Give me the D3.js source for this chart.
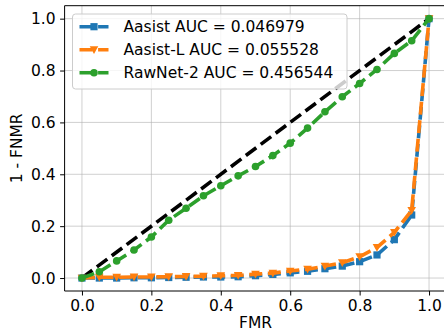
<!DOCTYPE html>
<html>
<head>
<meta charset="utf-8">
<script src="https://cdn.jsdelivr.net/npm/d3@7"></script>
<style>
  body { margin: 0; background: #fff; }
  svg { display: block; font-family: "DejaVu Sans", sans-serif; }
</style>
</head>
<body>
<svg id="chart" width="444" height="335"></svg>
<script>
// ROC-style curves: FMR vs 1 - FNMR for three models

const fmr = [0, 0.05, 0.1, 0.15, 0.2, 0.25, 0.3, 0.35, 0.4, 0.45, 0.5,
             0.55, 0.6, 0.65, 0.7, 0.75, 0.8, 0.85, 0.9, 0.95, 1.0];

const aasist = [0, 0.0, 0.0, 0.001, 0.001, 0.002, 0.003, 0.004, 0.004, 0.005, 0.009,
                0.014, 0.02, 0.026, 0.036, 0.046, 0.063, 0.089, 0.148, 0.243, 1.0];

const aasistL = [0, 0.003, 0.003, 0.004, 0.004, 0.005, 0.006, 0.007, 0.009, 0.01, 0.015,
                 0.019, 0.027, 0.034, 0.046, 0.059, 0.082, 0.118, 0.176, 0.261, 1.0];

const rawnet = [0, 0.024, 0.066, 0.108, 0.158, 0.223, 0.269, 0.317, 0.356, 0.394, 0.43,
                0.472, 0.52, 0.578, 0.641, 0.699, 0.75, 0.804, 0.866, 0.915, 1.0];

const ticks = [0, 0.2, 0.4, 0.6, 0.8, 1.0];

const series = [
  { name: 'Aasist AUC = 0.046979', values: aasist, color: '#1f77b4', marker: 'square' },
  { name: 'Aasist-L AUC = 0.055528', values: aasistL, color: '#ff7f0e', marker: 'tri' },
  { name: 'RawNet-2 AUC = 0.456544', values: rawnet, color: '#2ca02c', marker: 'circle' }
];

const svg = d3.select('#chart');
const fs = 15.5;

const x = d3.scaleLinear().domain([-0.05, 1.05]).range([64.6, 446.4]);
const y = d3.scaleLinear().domain([-0.05, 1.05]).range([291, 5.7]);

// grid
const grid = svg.append('g');
grid.selectAll('.gx').data(ticks).enter().append('line')
  .attr('x1', d => x(d)).attr('x2', d => x(d))
  .attr('y1', y(-0.05)).attr('y2', y(1.05))
  .attr('stroke', '#b0b0b0').attr('stroke-opacity', 0.6).attr('stroke-width', 1);
grid.selectAll('.gy').data(ticks).enter().append('line')
  .attr('y1', d => y(d)).attr('y2', d => y(d))
  .attr('x1', x(-0.05)).attr('x2', x(1.05))
  .attr('stroke', '#b0b0b0').attr('stroke-opacity', 0.6).attr('stroke-width', 1);

// axes
const fmt = d3.format('.1f');
const xAxis = svg.append('g')
  .attr('transform', `translate(0,${y(-0.05)})`)
  .call(d3.axisBottom(x).tickValues(ticks).tickFormat(fmt).tickSize(4.5).tickPadding(4.5));
const yAxis = svg.append('g')
  .attr('transform', `translate(${x(-0.05)},0)`)
  .call(d3.axisLeft(y).tickValues(ticks).tickFormat(fmt).tickSize(4.5).tickPadding(4.5));
[xAxis, yAxis].forEach(a => {
  a.selectAll('text').attr('font-size', fs).attr('font-family', '"DejaVu Sans", sans-serif').attr('fill', '#000');
  a.select('.domain').attr('stroke', '#000').attr('stroke-width', 1);
  a.selectAll('.tick line').attr('stroke', '#000').attr('stroke-width', 1);
});
yAxis.select('.domain').attr('d', `M0,${y(-0.05)}V${y(1.05)}`);
xAxis.select('.domain').attr('d', `M${x(-0.05)},0H${x(1.05)}`);
// top spine
svg.append('line')
  .attr('x1', x(-0.05)).attr('x2', x(1.05))
  .attr('y1', y(1.05)).attr('y2', y(1.05))
  .attr('stroke', '#000').attr('stroke-width', 1);

svg.append('text')
  .attr('x', (x(0) + x(1)) / 2).attr('y', 328)
  .attr('text-anchor', 'middle').attr('font-size', fs)
  .text('FMR');
svg.append('text')
  .attr('transform', `translate(22,${(y(0) + y(1)) / 2}) rotate(-90)`)
  .attr('text-anchor', 'middle').attr('font-size', fs)
  .text('1 - FNMR');

// chance line
svg.append('path')
  .datum([0, 1])
  .attr('d', d3.line().x(d => x(d)).y(d => y(d)))
  .attr('fill', 'none').attr('stroke', '#000')
  .attr('stroke-width', 3.6).attr('stroke-dasharray', '13,5.6');

function drawMarker(sel, type, color) {
  if (type === 'square') {
    sel.append('rect').attr('x', -3.6).attr('y', -3.6).attr('width', 7.2).attr('height', 7.2)
      .attr('fill', color);
  } else if (type === 'tri') {
    sel.append('path').attr('d', 'M-4.3,-3.4L4.3,-3.4L0,4.3Z').attr('fill', color);
  } else {
    sel.append('circle').attr('r', 3.8).attr('fill', color);
  }
}

const line = d3.line().x((d, i) => x(fmr[i])).y(d => y(d));

series.forEach(s => {
  const g = svg.append('g');
  g.append('path').datum(s.values)
    .attr('d', line)
    .attr('fill', 'none').attr('stroke', s.color)
    .attr('stroke-width', 3.6).attr('stroke-dasharray', '13,5.6');
  g.selectAll('.m').data(s.values).enter().append('g')
    .attr('transform', (d, i) => `translate(${x(fmr[i])},${y(d)})`)
    .each(function () { drawMarker(d3.select(this), s.marker, s.color); });
});

// legend
const lg = svg.append('g').attr('transform', 'translate(72.5,14)');
lg.append('rect')
  .attr('width', 274.5).attr('height', 75).attr('rx', 3)
  .attr('fill', '#fff').attr('fill-opacity', 0.8)
  .attr('stroke', '#cccccc').attr('stroke-width', 1);
series.forEach((s, i) => {
  const row = lg.append('g').attr('transform', `translate(0,${12.7 + i * 23})`);
  row.append('line')
    .attr('x1', 7).attr('x2', 36)
    .attr('stroke', s.color).attr('stroke-width', 3.6)
    .attr('stroke-dasharray', '13,5.6');
  drawMarker(row.append('g').attr('transform', 'translate(21.5,0)'), s.marker, s.color);
  row.append('text')
    .attr('x', 51).attr('y', 5.6)
    .attr('font-size', fs)
    .text(s.name);
});
</script>
</body>
</html>
